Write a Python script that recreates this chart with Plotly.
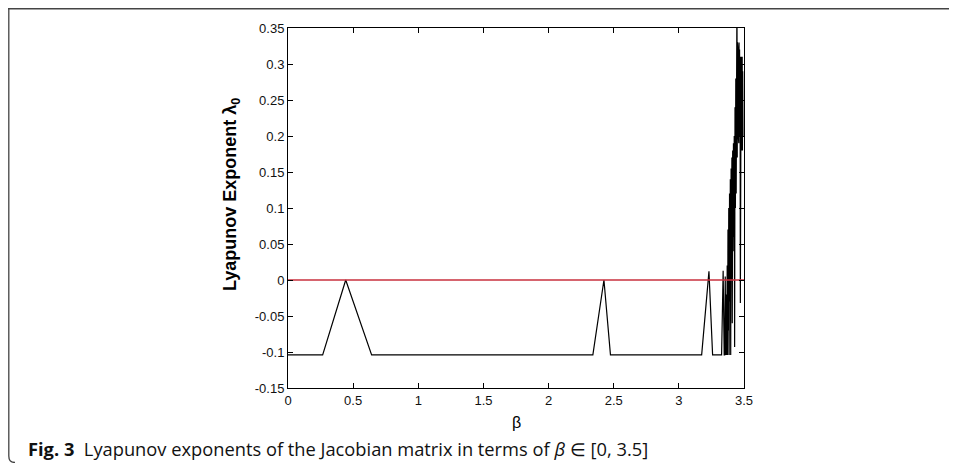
import plotly.graph_objects as go

# ---- data ----
beta = [0.0, 0.266, 0.443, 0.642, 2.34, 2.425, 2.475, 3.175, 3.231, 3.259,
        3.328, 3.340, 3.348, 3.352, 3.356, 3.360, 3.364, 3.368, 3.371, 3.374,
        3.377, 3.380, 3.383, 3.386, 3.389, 3.392, 3.395, 3.398, 3.401, 3.404,
        3.407, 3.410, 3.413, 3.416, 3.419, 3.422, 3.425, 3.428, 3.431, 3.434,
        3.437, 3.440, 3.442, 3.444, 3.446, 3.448, 3.450, 3.452, 3.454, 3.456,
        3.458, 3.460, 3.462, 3.464, 3.466, 3.468, 3.470, 3.472, 3.474, 3.476,
        3.478, 3.480, 3.482, 3.484, 3.486, 3.488, 3.490, 3.492]
lyap = [-0.104, -0.104, 0.0, -0.104, -0.104, 0.0, -0.104, -0.104, 0.012, -0.104,
        -0.104, 0.013, -0.104, -0.104, 0.005, -0.104, -0.02, -0.104, 0.02, -0.104,
        0.07, -0.07, 0.10, -0.104, 0.12, -0.03, 0.14, -0.104, 0.155, 0.00,
        0.17, -0.06, 0.18, 0.04, 0.19, 0.06, 0.20, -0.093, 0.24, 0.10,
        0.28, 0.12, 0.31, 0.15, 0.40, 0.17, 0.33, 0.19, 0.32, 0.20,
        0.33, 0.19, 0.33, 0.21, 0.32, 0.20, 0.31, -0.032, 0.30, 0.19,
        0.31, 0.18, 0.30, 0.19, 0.31, 0.18, 0.29, 0.20]
zero_x = [0.0, 3.5]
zero_y = [0.0, 0.0]

x_ticks = [0, 0.5, 1, 1.5, 2, 2.5, 3, 3.5]
x_tick_text = ["0", "0.5", "1", "1.5", "2", "2.5", "3", "3.5"]
y_ticks = [-0.15, -0.1, -0.05, 0, 0.05, 0.1, 0.15, 0.2, 0.25, 0.3, 0.35]
y_tick_text = ["-0.15", "-0.1", "-0.05", "0", "0.05", "0.1", "0.15", "0.2", "0.25", "0.3", "0.35"]

# window geometry (page body has an 8px margin)
OFF = 8
WIN_W, WIN_H = 957, 471
W, H = WIN_W - 2 * OFF, WIN_H - 2 * OFF
# plot box in window pixels
PL, PR, PT, PB = 288, 744, 28, 388
L, T = PL - OFF, PT - OFF
R, B = W - (PR - OFF), H - (PB - OFF)
PW, PH = PR - PL, PB - PT


def px(p):  # window pixel x -> paper
    return (p - PL) / PW


def py(q):  # window pixel y -> paper
    return (PB - q) / PH


fig = go.Figure()
fig.add_trace(go.Scatter(x=beta, y=lyap, mode="lines",
                         line=dict(color="black", width=1.2), showlegend=False))
fig.add_trace(go.Scatter(x=zero_x, y=zero_y, mode="lines",
                         line=dict(color="#c9303e", width=1.3), showlegend=False))

axis_common = dict(showgrid=False, zeroline=False, showline=True, linecolor="black",
                   linewidth=1, mirror="allticks", ticks="inside", ticklen=5,
                   tickcolor="black",
                   tickfont=dict(family="Liberation Sans, Arial", size=13, color="#111"))

fig.update_xaxes(range=[0, 3.5], tickvals=x_ticks, ticktext=x_tick_text, **axis_common)
fig.update_yaxes(range=[-0.15, 0.35], tickvals=y_ticks, ticktext=y_tick_text, **axis_common)

fig.update_layout(
    width=W, height=H,
    margin=dict(l=L, r=R, t=T, b=B, pad=0),
    paper_bgcolor="white", plot_bgcolor="white",
    annotations=[
        dict(text="<b>Lyapunov Exponent λ<sub>0</sub></b>", xref="paper", yref="paper",
             x=px(231), y=py(195), xanchor="center", yanchor="middle", textangle=-90,
             showarrow=False, font=dict(family="Liberation Sans, Arial", size=18, color="black")),
        dict(text="β", xref="paper", yref="paper", x=px(516), y=py(422),
             xanchor="center", yanchor="middle", showarrow=False,
             font=dict(family="Liberation Sans, Arial", size=16, color="black")),
        dict(text="<b>Fig. 3</b>  Lyapunov exponents of the Jacobian matrix in terms of <i>β</i> ∈ [0, 3.5]",
             xref="paper", yref="paper", x=px(26), y=py(448), xanchor="left", yanchor="middle",
             showarrow=False,
             font=dict(family="Open Sans", size=18.3, color="#111")),
    ],
    shapes=[
        dict(type="line", xref="paper", yref="paper", x0=px(OFF), x1=px(WIN_W - OFF),
             y0=py(8.8), y1=py(8.8), line=dict(color="#444", width=1.5)),
        dict(type="path", xref="paper", yref="paper",
             path=f"M {px(8.8)},{py(8.8)} L {px(8.8)},{py(456)} Q {px(8.8)},{py(462.5)} {px(15)},{py(462.5)}",
             line=dict(color="#444", width=1.3)),
    ],
)

fig.write_html("out.html")
